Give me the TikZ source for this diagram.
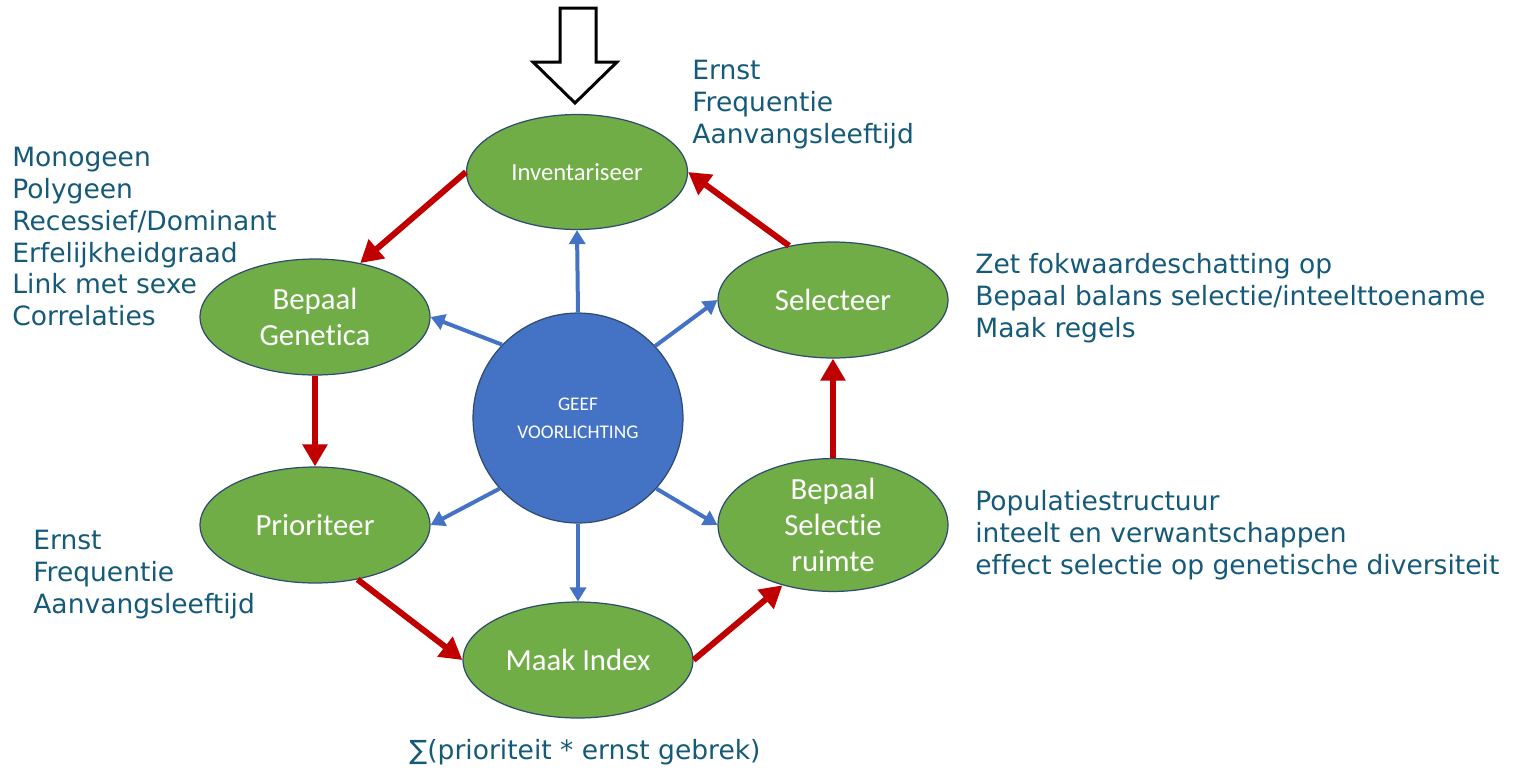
\documentclass[tikz,border=0pt]{standalone}
\usepackage{fontspec}
\setmainfont[Ligatures={NoCommon}]{DejaVu Sans}
\newfontfamily\carlito[Ligatures={NoCommon}]{Carlito}
\usepackage{tikz}
\usetikzlibrary{positioning,shapes.geometric,arrows.meta}
\definecolor{StepGreen}{HTML}{70AD47}
\definecolor{HubBlue}{HTML}{4472C4}
\definecolor{EdgeDark}{HTML}{2F4B6E}
\definecolor{FlowRed}{HTML}{C00000}
\definecolor{NoteTeal}{HTML}{155A78}

\begin{document}
\begin{tikzpicture}[
    x=0.02cm, y=-0.02cm,
    stepnode/.style={ellipse, draw=EdgeDark, fill=StepGreen, line width=0.7pt, minimum width=4.6cm, minimum height=2.32cm, inner sep=0pt, align=center, font=\carlito\fontsize{17.5}{20.6}\selectfont\color{white}},
    hub/.style={circle, draw=EdgeDark, fill=HubBlue, line width=0.7pt, minimum size=4.2cm, inner sep=0pt, align=center, font=\carlito\fontsize{11}{15.9}\selectfont\color{white}},
    note/.style={anchor=north west, inner sep=0pt, align=left, font=\fontsize{15.1}{18.1}\selectfont\color{NoteTeal}},
    flow/.style={-{Triangle[length=0.44cm,width=0.48cm]}, line width=0.12cm, FlowRed},
    info/.style={-{Triangle[length=0.28cm,width=0.32cm]}, line width=0.08cm, HubBlue}
  ]
    \useasboundingbox (0,0) rectangle (1515,769);

    % Entry arrow
    \draw [line width=0.06cm, black, fill=white] (560,8) -- (596,8) -- (596,62) -- (617,62) -- (575,103) -- (533,62) -- (560,62) -- cycle;

    % Centre
    \node (hub) [hub] at (578,418) {GEEF\\VOORLICHTING};

    % Steps
    \node (inv) [stepnode, minimum width=4.42cm, minimum height=2.3cm, font=\carlito\fontsize{14}{17}\selectfont\color{white}] at (577,172) {Inventariseer};
    \node (gen) [stepnode] at (315,317) {Bepaal\\Genetica};
    \node (pri) [stepnode] at (315,525) {Prioriteer};
    \node (idx) [stepnode] at (578,660) {Maak Index};
    \node (rui) [stepnode] at (833,525) {Bepaal\\Selectie\\ruimte};
    \node (sel) [stepnode] at (833,300) {Selecteer};

    % Notes
    \node (invnote) [note] at (692,60) {Ernst\\Frequentie\\Aanvangsleeftijd};
    \node (gennote) [note] at (12,147) {Monogeen\\Polygeen\\Recessief/Dominant\\Erfelijkheidgraad\\Link met sexe\\Correlaties};
    \node (selnote) [note] at (975,253) {Zet fokwaardeschatting op\\Bepaal balans selectie/inteelttoename\\Maak regels};
    \node (prinote) [note] at (33,530) {Ernst\\Frequentie\\Aanvangsleeftijd};
    \node (ruinote) [note] at (975,490) {Populatiestructuur\\inteelt en verwantschappen\\effect selectie op genetische diversiteit};
    \node (idxnote) [note, anchor=center] at (585,752) {∑(prioriteit * ernst gebrek)};

    % Cycle
    \draw [flow] (inv.west) -- (gen.50);
    \draw [flow] (gen.south) -- (pri.north);
    \draw [flow] (pri.-52) -- (idx.west);
    \draw [flow] (idx.east) -- (rui.230);
    \draw [flow] (rui.north) -- (sel.south);
    \draw [flow] (sel.129) -- (inv.east);

    % Information
    \draw [info] (hub.north) -- (inv.south);
    \draw [info] (hub.136) -- (gen.east);
    \draw [info] (hub.43) -- (sel.west);
    \draw [info] (hub.222) -- (pri.east);
    \draw [info] (hub.south) -- (idx.north);
    \draw [info] (hub.318) -- (rui.west);
  \end{tikzpicture}
\end{document}
